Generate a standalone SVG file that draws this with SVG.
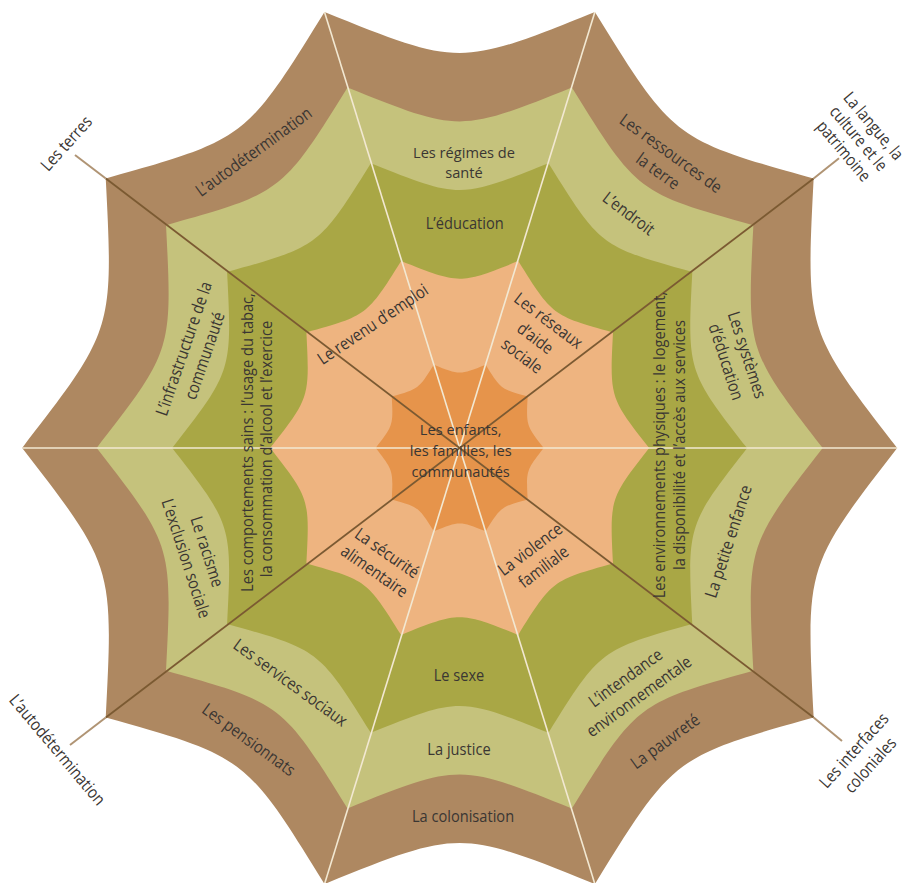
<svg xmlns="http://www.w3.org/2000/svg" xmlns:xlink="http://www.w3.org/1999/xlink" width="908" height="883" viewBox="0 0 908 883">
<style>
text { font-family: "Open Sans", "Noto Sans", "DejaVu Sans", sans-serif; font-size: 17px; fill: #3a3633; text-anchor: middle; }
text.sm { font-size: 15px; }
.lt { stroke: #F2E8D2; stroke-width: 1.6; fill: none; }
.dk { stroke: #7B5A32; stroke-width: 1.8; fill: none; }
.ext { stroke: #B09474; stroke-width: 2; fill: none; }
</style>
<defs>
<path id="web" d="M100,0 C79.128,-25.71 79.128,-25.71 80.902,-58.779 C48.904,-67.31 48.904,-67.31 30.902,-95.106 C0,-83.2 0,-83.2 -30.902,-95.106 C-48.904,-67.31 -48.904,-67.31 -80.902,-58.779 C-79.128,-25.71 -79.128,-25.71 -100,0 C-79.128,25.71 -79.128,25.71 -80.902,58.779 C-48.904,67.31 -48.904,67.31 -30.902,95.106 C0,83.2 0,83.2 30.902,95.106 C48.904,67.31 48.904,67.31 80.902,58.779 C79.128,25.71 79.128,25.71 100,0 Z"/>
</defs>
<rect width="908" height="883" fill="#ffffff"/>
<g id="rings">
<use id="ring-outer" xlink:href="#web" href="#web" fill="#AE8861" transform="translate(459.7,448) scale(4.375,4.585)"/>
<use id="ring-2" xlink:href="#web" href="#web" fill="#C5C27C" transform="translate(459.7,448) scale(3.63,3.79)"/>
<use id="ring-3" xlink:href="#web" href="#web" fill="#A9A745" transform="translate(459.7,448) scale(2.875,2.995)"/>
<use id="ring-4" xlink:href="#web" href="#web" fill="#EEB480" transform="translate(459.7,448) scale(1.895,1.965)"/>
<use id="ring-5" xlink:href="#web" href="#web" fill="#E6944B" transform="translate(459.7,448) scale(0.84,0.875)"/>
</g>
<g id="connectors">
<line class="lt" x1="22.2" y1="448" x2="897.2" y2="448"/>
<line class="lt" x1="324.5" y1="11.9" x2="594.9" y2="884.1"/>
<line class="lt" x1="594.9" y1="11.9" x2="324.5" y2="884.1"/>
<line class="dk" x1="105.8" y1="178.5" x2="813.6" y2="717.5"/>
<line class="dk" x1="813.6" y1="178.5" x2="105.8" y2="717.5"/>
<line class="ext" x1="105.8" y1="178.5" x2="75" y2="155"/>
<line class="ext" x1="813.6" y1="178.5" x2="839" y2="158.3"/>
<line class="ext" x1="105.8" y1="717.5" x2="70" y2="745"/>
<line class="ext" x1="813.6" y1="717.5" x2="842" y2="741"/>
</g>
<g id="center"><text class="sm" transform="translate(460.7,0) scale(0.975,1)"><tspan x="0" y="435">Les enfants,</tspan><tspan x="0" y="456">les familles, les</tspan><tspan x="0" y="477">communautés</tspan></text></g>
<g id="regimes-sante"><text class="sm" transform="translate(464,0) scale(0.975,1)"><tspan x="0" y="158">Les régimes de</tspan><tspan x="0" y="178.5">santé</tspan></text></g>
<g id="education"><text transform="translate(464.7,0) scale(0.86,1)"><tspan x="0" y="229">L’éducation</tspan></text></g>
<g id="sexe"><text transform="translate(459,0) scale(0.86,1)"><tspan x="0" y="681">Le sexe</tspan></text></g>
<g id="justice"><text transform="translate(459,0) scale(0.86,1)"><tspan x="0" y="754.7">La justice</tspan></text></g>
<g id="colonisation"><text transform="translate(463,0) scale(0.86,1)"><tspan x="0" y="822">La colonisation</tspan></text></g>
<g id="autodetermination-in"><text transform="translate(254.2,152.5) rotate(-36) scale(0.86,1)"><tspan x="0" y="5">L’autodétermination</tspan></text></g>
<g id="ressources-terre"><text transform="translate(664,163) rotate(36) scale(0.86,1)"><tspan x="0" y="-6">Les ressources de</tspan><tspan x="0" y="16">la terre</tspan></text></g>
<g id="endroit"><text transform="translate(628.2,214.2) rotate(37) scale(0.86,1)"><tspan x="0" y="5">L’endroit</tspan></text></g>
<g id="systemes-education"><text transform="translate(735.8,358.7) rotate(72) scale(0.86,1)"><tspan x="0" y="-6">Les systèmes</tspan><tspan x="0" y="16">d’éducation</tspan></text></g>
<g id="environnements"><text transform="translate(670,445) rotate(-90) scale(0.86,1)"><tspan x="0" y="-5">Les environnements physiques : le logement,</tspan><tspan x="0" y="15">la disponibilité et l’accès aux services</tspan></text></g>
<g id="comportements"><text transform="translate(257.5,446) rotate(-90) scale(0.86,1)"><tspan x="4" y="-4.2">Les comportements sains : l’usage du tabac,</tspan><tspan x="-3.5" y="14.2">la consommation d’alcool et l’exercice</tspan></text></g>
<g id="infrastructure"><text transform="translate(195,352.5) rotate(-71) scale(0.86,1)"><tspan x="0" y="-6">L’infrastructure de la</tspan><tspan x="0" y="16">communauté</tspan></text></g>
<g id="racisme"><text transform="translate(195.8,555.3) rotate(72) scale(0.86,1)"><tspan x="0" y="-6">Le racisme</tspan><tspan x="0" y="16">L’exclusion sociale</tspan></text></g>
<g id="revenu"><text transform="translate(373.3,325) rotate(-34) scale(0.86,1)"><tspan x="0" y="5">Le revenu d’emploi</tspan></text></g>
<g id="reseaux"><text transform="translate(534.8,338.9) rotate(37) scale(0.86,1)"><tspan x="0" y="-17">Les réseaux</tspan><tspan x="0" y="5">d’aide</tspan><tspan x="0" y="27">sociale</tspan></text></g>
<g id="securite"><text transform="translate(380.3,562.8) rotate(35) scale(0.86,1)"><tspan x="0" y="-6">La sécurité</tspan><tspan x="0" y="16">alimentaire</tspan></text></g>
<g id="violence"><text transform="translate(537.3,558.7) rotate(-37) scale(0.86,1)"><tspan x="0" y="-6">La violence</tspan><tspan x="0" y="16">familiale</tspan></text></g>
<g id="services-sociaux"><text transform="translate(290,683.3) rotate(36) scale(0.86,1)"><tspan x="0" y="5">Les services sociaux</tspan></text></g>
<g id="pensionnats"><text transform="translate(248.3,740.3) rotate(36) scale(0.86,1)"><tspan x="0" y="5">Les pensionnats</tspan></text></g>
<g id="intendance"><text transform="translate(632.7,687.8) rotate(-36) scale(0.86,1)"><tspan x="0" y="-6.5">L’intendance</tspan><tspan x="0" y="16.5">environnementale</tspan></text></g>
<g id="pauvrete"><text transform="translate(665.7,742) rotate(-36) scale(0.86,1)"><tspan x="0" y="5">La pauvreté</tspan></text></g>
<g id="petite-enfance"><text transform="translate(729.2,541.7) rotate(-72) scale(0.86,1)"><tspan x="0" y="5">La petite enfance</tspan></text></g>
<g id="terres"><text transform="translate(67,144) rotate(-48) scale(0.86,1)"><tspan x="0" y="5">Les terres</tspan></text></g>
<g id="langue"><text transform="translate(858,139) rotate(50) scale(0.84,1)"><tspan x="0" y="-14.5">La langue, la</tspan><tspan x="0" y="5">culture et le</tspan><tspan x="0" y="24.5">patrimoine</tspan></text></g>
<g id="autodetermination-out"><text transform="translate(56.7,750.3) rotate(50) scale(0.86,1)"><tspan x="0" y="5">L’autodétermination</tspan></text></g>
<g id="interfaces"><text transform="translate(862.7,758.3) rotate(-48) scale(0.86,1)"><tspan x="0" y="-6">Les interfaces</tspan><tspan x="0" y="16">coloniales</tspan></text></g>
</svg>
